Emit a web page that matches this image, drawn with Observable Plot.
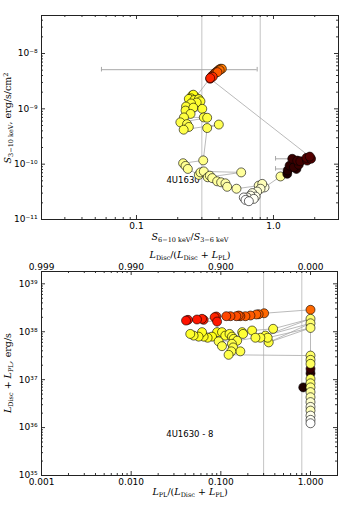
<!DOCTYPE html>
<html><head><meta charset="utf-8">
<script src="https://cdn.jsdelivr.net/npm/d3@7"></script>
<script src="https://cdn.jsdelivr.net/npm/@observablehq/plot@0.6"></script>
<style>
body{margin:0;background:#fff;width:341px;height:511px;overflow:hidden;font-family:"DejaVu Sans",sans-serif}
#c svg{display:block}
</style></head><body><div id="c"></div>
<script>
// ---------- top panel: hardness vs flux ----------
const hardness = [0.86,1.125,
 1.26,1.27,1.31,1.47,1.41,1.53,1.37,1.49,1.57,1.76,1.74,1.88,1.84,
 0.345,0.35,0.355,0.36,0.37,0.38,0.39,0.40,0.41,0.42,0.405,0.39,0.36,0.345,
 0.27,0.255,0.26,0.25,0.241,0.265,0.285,0.293,0.275,0.25,0.23,0.228,0.26,0.302,0.248,0.222,0.31,0.328,0.209,0.234,0.241,0.221,0.399,0.328,
 0.307,0.219,0.228,0.237,0.285,0.293,0.31,0.581,0.331,0.343,0.357,0.388,0.415,0.446,0.459,0.537,
 0.78,0.828,0.804,0.76,0.70,0.74,0.68,0.643,0.718,0.607,0.625,0.661];
const flux = [3.8e-11,6.0e-11,
 6.7e-11,7.7e-11,9.4e-11,8.2e-11,8.8e-11,9.8e-11,1.25e-10,1.16e-10,1.13e-10,1.16e-10,1.30e-10,1.25e-10,1.37e-10,
 3.5e-9,3.7e-9,3.9e-9,4.0e-9,4.3e-9,4.6e-9,4.8e-9,5.1e-9,5.3e-9,5.3e-9,5.0e-9,4.6e-9,3.8e-9,3.6e-9,
 1.62e-9,1.74e-9,1.8e-9,1.55e-9,1.51e-9,1.45e-9,1.5e-9,1.37e-9,1.3e-9,1.25e-9,1.1e-9,9.3e-10,1.05e-9,1.0e-9,8.1e-10,7.0e-10,7.0e-10,6.9e-10,5.7e-10,5.3e-10,4.7e-10,4.2e-10,5.2e-10,4.5e-10,
 1.17e-10,1.04e-10,9.3e-11,8.2e-11,6.4e-11,7.1e-11,7.4e-11,7.1e-11,5.8e-11,6.2e-11,5.6e-11,4.9e-11,4.7e-11,4.5e-11,3.9e-11,3.6e-11,
 4.1e-11,4.4e-11,3.6e-11,3.2e-11,3.0e-11,2.6e-11,2.7e-11,2.5e-11,2.36e-11,2.5e-11,2.26e-11,2.14e-11];
const phaseTop = [0.97,0.9,
 0.03,0.04,0.05,0.05,0.06,0.07,0.07,0.08,0.08,0.09,0.1,0.1,0.11,
 0.40,0.41,0.42,0.44,0.46,0.5,0.52,0.53,0.54,0.55,0.53,0.5,0.43,0.42,
 0.76,0.77,0.77,0.78,0.78,0.78,0.79,0.79,0.79,0.8,0.8,0.8,0.8,0.8,0.81,0.81,0.81,0.81,0.82,0.82,0.82,0.82,0.83,0.83,
 0.88,0.88,0.89,0.89,0.89,0.89,0.9,0.9,0.9,0.9,0.9,0.9,0.91,0.91,0.91,0.92,
 0.93,0.93,0.95,0.96,0.97,0.98,0.98,0.99,0.99,1.0,1.0,1.0];
// error bars (top panel)
const errCenter = [0.408, 1.37, 1.30];
const errFlux = [5.1e-9, 1.25e-10, 8.2e-11];
const errLo = [0.0555, 1.035, 1.035];
const errHi = [0.76, 1.705, 1.565];
const hardLimits = [0.3, 0.8];
const topXTicks = [0.1, 1];
const topXTickLabels = ["0.1", "1.0"];
const topYTicks = [1e-11, 1e-10, 1e-9, 1e-8];
const topYTickLabels = ["10\u207B\u00B9\u00B9", "10\u207B\u00B9\u2070", "10\u207B\u2079", "10\u207B\u2078"];
const topName = ["4U1630"], topNameX = [0.1655], topNameY = [5.2e-11];

// ---------- bottom panel: PL fraction vs luminosity ----------
const plFrac = [0.83,1,1,
 1,0.304,0.264,0.249,0.214,0.188,0.165,0.158,0.149,0.128,0.115,
 0.0891,0.0853,0.0643,0.0617,0.0542,0.043,0.0409,0.0908,
 0.0908,0.0798,0.0712,0.0643,0.0617,0.0565,0.0497,0.0456,0.103,0.112,0.125,0.133,0.139,0.173,0.177,0.223,0.383,1,0.314,1,0.342,1,0.333,0.276,0.243,0.152,0.0945,0.103,0.133,0.137,0.165,0.131,0.122,
 1,1,1,1,1,1,1,1,1,1,1,1,1,1];
const lum = [6.9e36,1.36e37,1.68e37,
 2.87e38,2.43e38,2.32e38,2.29e38,2.18e38,2.11e38,2.11e38,2.18e38,2.11e38,2.11e38,2.11e38,
 2.08e38,2.01e38,1.77e38,1.86e38,1.80e38,1.77e38,1.71e38,1.63e38,
 9.8e37,7.9e37,7.5e37,7.9e37,9.8e37,7.9e37,8.3e37,9.0e37,9.8e37,8.3e37,9.0e37,7.9e37,7.1e37,9.8e37,9.0e37,1.06e38,1.15e38,1.86e38,8.3e37,1.5e38,6.0e37,1.2e38,7.5e37,7.5e37,7.5e37,6.5e37,6.3e37,5.0e37,5.6e37,4.7e37,3.9e37,3.9e37,3.3e37,
 3.18e37,2.59e37,2.14e37,1.04e37,8.4e36,6.9e36,5.5e36,4.3e36,3.4e36,2.7e36,2.26e36,1.78e36,1.45e36,1.23e36];
const phaseBottom = [0.03,0.05,0.07,
 0.52,0.52,0.51,0.51,0.5,0.5,0.49,0.49,0.48,0.48,0.47,
 0.43,0.42,0.41,0.41,0.40,0.39,0.39,0.40,
 0.77,0.77,0.78,0.78,0.78,0.78,0.79,0.79,0.79,0.79,0.8,0.8,0.8,0.8,0.8,0.8,0.81,0.86,0.81,0.86,0.81,0.86,0.81,0.81,0.81,0.81,0.82,0.82,0.82,0.82,0.82,0.82,0.82,
 0.85,0.85,0.84,0.84,0.86,0.88,0.9,0.92,0.95,0.97,0.93,0.98,0.99,1.0];
const botXTicks = [0.001, 0.01, 0.1, 1];
const botXTickLabels = ["0.001", "0.010", "0.100", "1.000"];
const botTopTickLabels = ["0.999", "0.990", "0.900", "0.000"];
const botYTicks = [1e35, 1e36, 1e37, 1e38, 1e39];
const botYTickLabels = ["10\u00B3\u2075", "10\u00B3\u2076", "10\u00B3\u2077", "10\u00B3\u2078", "10\u00B3\u2079"];
const botName = ["4U1630 - 8"], botNameX = [0.0246], botNameY = [7.1e35];

// ---------- helpers ----------
const hot = t => {
  const c = v => Math.max(0, Math.min(1, v));
  const r = 0.0416 + 0.9584 * c(t / 0.365), g = c((t - 0.365) / 0.381), b = c((t - 0.746) / 0.254);
  return d3.rgb(255 * r, 255 * g, 255 * b).toString();
};
function logTicks(lo, hi) {
  const maj = [], min = [];
  for (let e = Math.floor(Math.log10(lo)) - 1; e <= Math.ceil(Math.log10(hi)); e++)
    for (let k = 1; k < 10; k++) {
      const v = +(k + "e" + e);
      if (v < lo * 0.9999 || v > hi * 1.0001) continue;
      (k === 1 ? maj : min).push(v);
    }
  return {maj, min};
}
const lookup = (vals, labels) => d => { const i = vals.findIndex(v => Math.abs(v - d) / v < 1e-6); return i < 0 ? "" : labels[i]; };
function frameTicks(xd, yd, W, H, m) {
  const iw = W - m.l - m.r, ih = H - m.t - m.b;
  const xt = logTicks(xd[0], xd[1]), yt = logTicks(yd[0], yd[1]);
  const o = {stroke: "#000", strokeWidth: 0.8};
  return [
    Plot.ruleX(xt.maj, {...o, insetTop: ih - 4}), Plot.ruleX(xt.min, {...o, insetTop: ih - 2}),
    Plot.ruleX(xt.maj, {...o, insetBottom: ih - 4}), Plot.ruleX(xt.min, {...o, insetBottom: ih - 2}),
    Plot.ruleY(yt.maj, {...o, insetRight: iw - 4}), Plot.ruleY(yt.min, {...o, insetRight: iw - 2}),
    Plot.ruleY(yt.maj, {...o, insetLeft: iw - 4}), Plot.ruleY(yt.min, {...o, insetLeft: iw - 2})
  ];
}
const colorScale = {type: "linear", domain: [0, 1], interpolate: hot};
const gridStroke = "#c4c4c4", linkStroke = "#a8a8a8";

// ---------- top plot ----------
const topData = hardness.map((h, i) => ({h, f: flux[i], t: phaseTop[i]}));
const errData = errCenter.map((c, i) => ({c, y: errFlux[i], lo: errLo[i], hi: errHi[i]}));
const W = 341, H1 = 248, m1 = {l: 41, r: 3, t: 15, b: 29};
const xd1 = [0.02026, 2.982], yd1 = [1e-11, 4.863e-8];
const topPlot = Plot.plot({
  width: W, height: H1, marginLeft: m1.l, marginRight: m1.r, marginTop: m1.t, marginBottom: m1.b,
  style: {fontFamily: "DejaVu Sans", fontSize: "9px", background: "white", color: "#000"},
  x: {type: "log", domain: xd1},
  y: {type: "log", domain: yd1},
  color: colorScale,
  marks: [
    Plot.ruleX(hardLimits, {stroke: gridStroke, strokeWidth: 1}),
    Plot.ruleY(errData, {y: "y", x1: "lo", x2: "hi", stroke: linkStroke, strokeWidth: 1}),
    Plot.ruleX(errData, {x: "lo", y1: d => d.y / 1.1, y2: d => d.y * 1.1, stroke: linkStroke, strokeWidth: 1}),
    Plot.ruleX(errData, {x: "hi", y1: d => d.y / 1.1, y2: d => d.y * 1.1, stroke: linkStroke, strokeWidth: 1}),
    Plot.line(topData, {x: "h", y: "f", stroke: linkStroke, strokeWidth: 0.8}),
    Plot.text(topName, {x: topNameX, y: topNameY, text: d => d, textAnchor: "start", fontSize: 8.5, fill: "#000"}),
    Plot.dot(topData, {x: "h", y: "f", fill: "t", r: 4.5, stroke: "#000", strokeWidth: 0.6}),
    ...frameTicks(xd1, yd1, W, H1, m1),
    Plot.frame({stroke: "#222", strokeWidth: 1}),
    Plot.axisX({ticks: topXTicks, tickSize: 0, tickPadding: 3, tickFormat: lookup(topXTicks, topXTickLabels), label: null}),
    Plot.axisY({ticks: topYTicks, tickSize: 0, tickPadding: 4, tickFormat: lookup(topYTicks, topYTickLabels), label: null})
  ]
});

// ---------- bottom plot ----------
const botData = plFrac.map((p, i) => ({p, L: lum[i], t: phaseBottom[i]}));
const H2 = 263, m2 = {l: 41, r: 4, t: 23, b: 36};
const xd2 = [0.001, 2.0], yd2 = [1e35, 1.807e39];
const bottomPlot = Plot.plot({
  width: W, height: H2, marginLeft: m2.l, marginRight: m2.r, marginTop: m2.t, marginBottom: m2.b,
  style: {fontFamily: "DejaVu Sans", fontSize: "9px", background: "white", color: "#000"},
  x: {type: "log", domain: xd2},
  y: {type: "log", domain: yd2},
  color: colorScale,
  marks: [
    Plot.ruleX(hardLimits, {stroke: gridStroke, strokeWidth: 1}),
    Plot.line(botData, {x: "p", y: "L", stroke: linkStroke, strokeWidth: 0.8}),
    Plot.text(botName, {x: botNameX, y: botNameY, text: d => d, textAnchor: "start", fontSize: 8.5, fill: "#000"}),
    Plot.dot(botData, {x: "p", y: "L", fill: "t", r: 4.5, stroke: "#000", strokeWidth: 0.6}),
    ...frameTicks(xd2, yd2, W, H2, m2),
    Plot.frame({stroke: "#222", strokeWidth: 1}),
    Plot.axisX({ticks: botXTicks, tickSize: 0, tickPadding: 3, tickFormat: lookup(botXTicks, botXTickLabels), label: null}),
    Plot.axisX({anchor: "top", ticks: botXTicks, tickSize: 0, tickPadding: 2, tickFormat: lookup(botXTicks, botTopTickLabels), label: null}),
    Plot.axisY({ticks: botYTicks, tickSize: 0, tickPadding: 4, tickFormat: lookup(botYTicks, botYTickLabels), label: null})
  ]
});

const root = document.getElementById("c");
root.append(topPlot, bottomPlot);

// ---------- math-style axis labels ----------
function mathLabel(svg, x, y, rotate, parts) {
  const t = d3.select(svg).append("text")
    .attr("transform", `translate(${x},${y})` + (rotate ? " rotate(-90)" : ""))
    .attr("text-anchor", "middle").attr("font-family", "DejaVu Serif, serif").attr("font-size", 9.5).attr("fill", "#000");
  for (const [txt, kind] of parts) {
    const s = t.append("tspan").text(txt);
    if (kind === "i") s.attr("font-style", "italic");
    if (kind === "sub") s.attr("font-size", 6.5).attr("baseline-shift", "-25%");
    if (kind === "sup") s.attr("font-size", 6.5).attr("baseline-shift", "40%");
  }
}
mathLabel(topPlot, 190, 240, false, [["S", "i"], ["6\u221210 keV", "sub"], ["/", ""], ["S", "i"], ["3\u22126 keV", "sub"]]);
mathLabel(topPlot, 11, 118, true, [["S", "i"], ["3\u221210 keV", "sub"], [", erg/s/cm", ""], ["2", "sup"]]);
mathLabel(bottomPlot, 190, 10, false, [["L", "i"], ["Disc", "sub"], ["/(", ""], ["L", "i"], ["Disc", "sub"], [" + ", ""], ["L", "i"], ["PL", "sub"], [")", ""]]);
mathLabel(bottomPlot, 190, 247, false, [["L", "i"], ["PL", "sub"], ["/(", ""], ["L", "i"], ["Disc", "sub"], [" + ", ""], ["L", "i"], ["PL", "sub"], [")", ""]]);
mathLabel(bottomPlot, 11, 125, true, [["L", "i"], ["Disc", "sub"], [" + ", ""], ["L", "i"], ["PL", "sub"], [", erg/s", ""]]);
</script></body></html>
